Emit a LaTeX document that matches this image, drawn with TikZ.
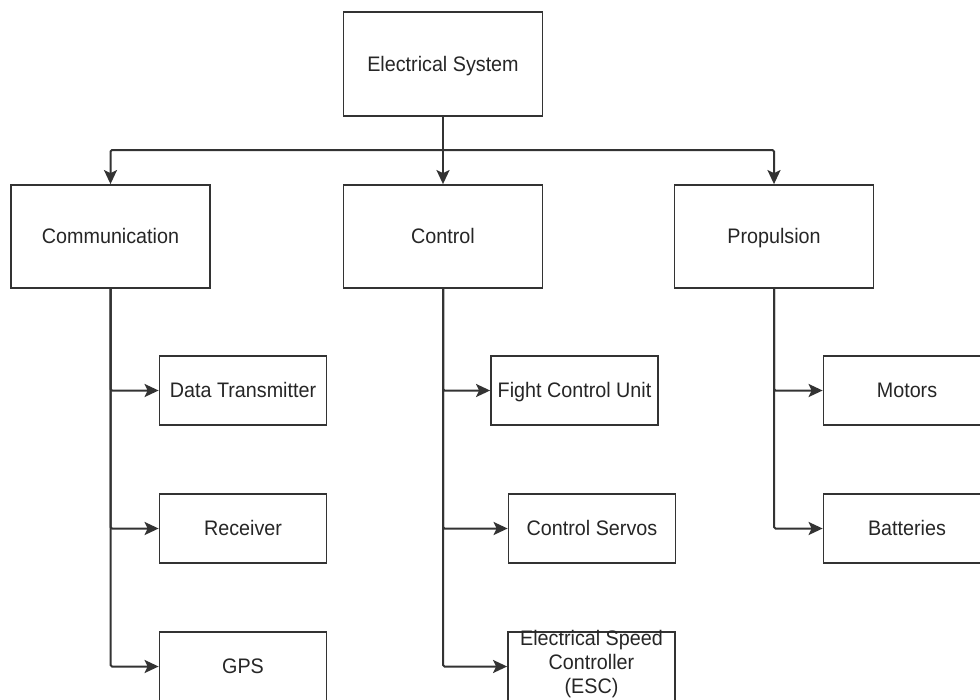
\documentclass[tikz,border=0pt]{standalone}
\usepackage{fontspec}
\setmainfont{Liberation Sans}[FakeStretch=0.94]
\usetikzlibrary{arrows.meta}
\begin{document}
\begin{tikzpicture}[x=1pt,y=-1pt,
  box/.style={draw=black!80, line width=1.8pt, rectangle, inner sep=0pt, font=\fontsize{21}{24}\selectfont, text=black!85, text height=15pt, text depth=1pt},
  big/.style={box, minimum width=199pt, minimum height=103pt},
  small/.style={box, minimum width=167pt, minimum height=69pt},
  lbl/.style={inner sep=0pt, align=center, font=\fontsize{21}{24}\selectfont, text=black!85},
  arr/.style={draw=black!80, line width=2pt, rounded corners=1.5pt, -{Stealth[length=14pt,width=13pt,inset=3pt]}}]
\useasboundingbox (0,0) rectangle (980,699);
\clip (0,0) rectangle (980,699);
\fill[white] (0,0) rectangle (980,699);

\node[big, minimum height=104pt] (top) at (443,64) {Electrical System};
\node[big] (comm) at (110.5,236.5) {Communication};
\node[big] (ctrl) at (443,236.5) {Control};
\node[big] (prop) at (774,236.5) {Propulsion};

\node[small] (dt) at (243,390.5) {Data Transmitter};
\node[small] (rx) at (243,528.5) {Receiver};
\node[small] (gps) at (243,666.5) {GPS};

\node[small] (fcu) at (574.5,390.5) {Fight Control Unit};
\node[small] (srv) at (592,528.5) {Control Servos};
\node[small] (esc) at (591.5,666.5) {};
\node[lbl] (esclbl) at (591.5,664) {Electrical Speed\\Controller\\(ESC)};

\node[small] (mot) at (907,390.5) {Motors};
\node[small] (bat) at (907,528.5) {Batteries};

\coordinate (j) at (443,150);
\draw[arr] (top.south) -- (ctrl.north);
\draw[arr] (j) -| (comm.north);
\draw[arr] (j) -| (prop.north);

\draw[arr] (comm.south) |- (dt.west);
\draw[arr] (comm.south) |- (rx.west);
\draw[arr] (comm.south) |- (gps.west);

\draw[arr] (ctrl.south) |- (fcu.west);
\draw[arr] (ctrl.south) |- (srv.west);
\draw[arr] (ctrl.south) |- (esc.west);

\draw[arr] (prop.south) |- (mot.west);
\draw[arr] (prop.south) |- (bat.west);
\end{tikzpicture}
\end{document}
